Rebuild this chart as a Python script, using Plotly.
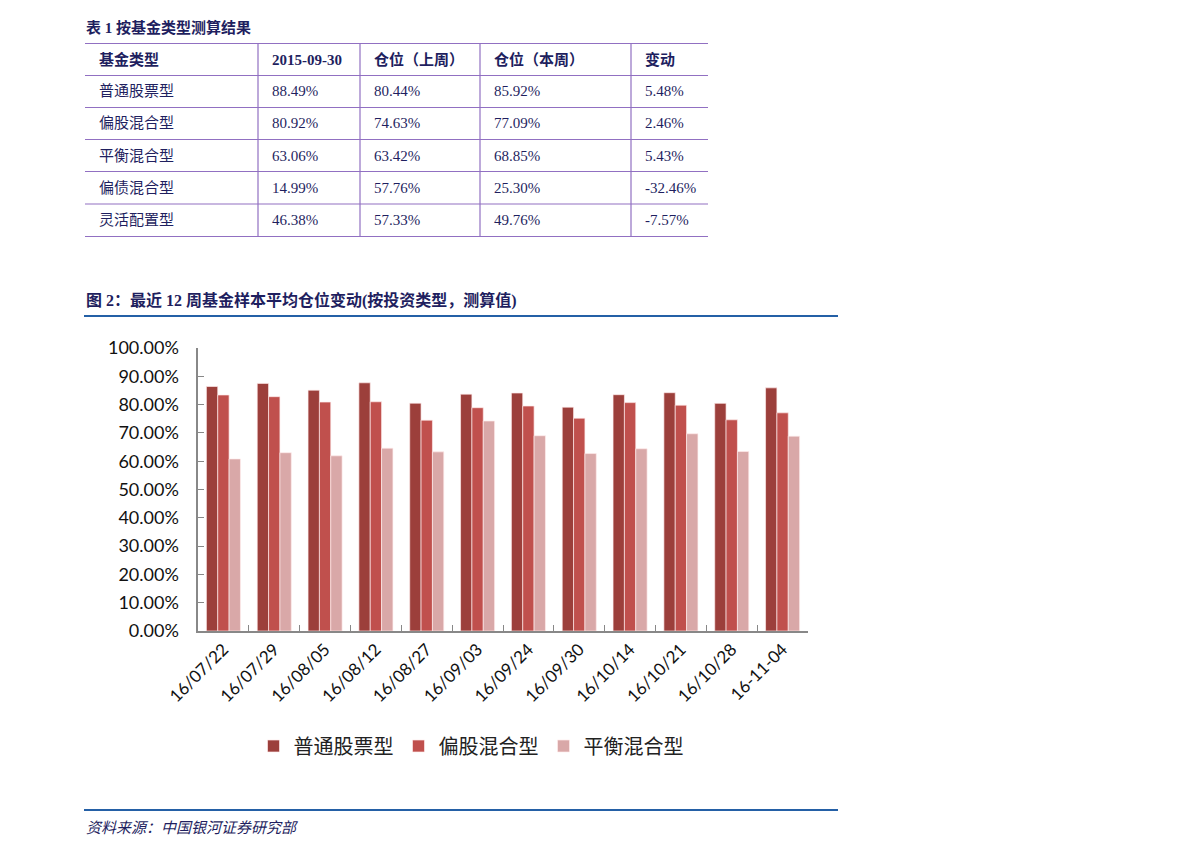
import plotly.graph_objects as go

W, H = 1191, 856

# ---------------- data ----------------
weeks = ["16/07/22", "16/07/29", "16/08/05", "16/08/12", "16/08/27", "16/09/03",
         "16/09/24", "16/09/30", "16/10/14", "16/10/21", "16/10/28", "16-11-04"]
stock_fund = [86.4, 87.5, 85.1, 87.7, 80.5, 83.7, 84.1, 79.1, 83.5, 84.2, 80.44, 85.92]
equity_mixed = [83.4, 82.8, 80.9, 81.0, 74.5, 78.9, 79.5, 75.2, 80.7, 79.8, 74.63, 77.09]
balanced_mixed = [60.8, 63.0, 61.9, 64.6, 63.3, 74.2, 69.0, 62.7, 64.4, 69.7, 63.42, 68.85]
series_names = ["普通股票型", "偏股混合型", "平衡混合型"]
series_colors = ["#9C3F3B", "#C0504D", "#D9A8A8"]

table_header = ["基金类型", "2015-09-30", "仓位（上周）", "仓位（本周）", "变动"]
fund_types = ["普通股票型", "偏股混合型", "平衡混合型", "偏债混合型", "灵活配置型"]
pos_20150930 = [88.49, 80.92, 63.06, 14.99, 46.38]
pos_last_week = [80.44, 74.63, 63.42, 57.76, 57.33]
pos_this_week = [85.92, 77.09, 68.85, 25.30, 49.76]
pos_change = [5.48, 2.46, 5.43, -32.46, -7.57]

table_title = "表 1 按基金类型测算结果"
chart_title = "图 2：最近 12 周基金样本平均仓位变动(按投资类型，测算值)"
source_text = "资料来源：中国银河证券研究部"

# ---------------- helpers ----------------
def px(x):
    return x / W

def py(y):
    return 1 - y / H

NAVY = "#1F1F5F"
PURPLE = "#9170C2"
BLUE = "#2460A6"
FONT_MIX = "Liberation Serif, Noto Sans CJK SC"
FONT_CJK = "Noto Sans CJK SC"
FONT_AX = "Lato, Open Sans, sans-serif"

fig = go.Figure()

for name, vals, col in zip(series_names, [stock_fund, equity_mixed, balanced_mixed], series_colors):
    fig.add_trace(go.Bar(
        x=weeks, y=[v / 100 for v in vals], name=name,
        marker=dict(color=col, line=dict(color="rgba(255,235,235,0.85)", width=0.8)),
    ))

shapes = []
annotations = []

# table grid
row_lines = [43.5, 75.5, 107.5, 139.5, 171.5, 204, 236.5]
col_lines = [258, 360, 480, 631]
for yy in row_lines:
    shapes.append(dict(type="line", xref="paper", yref="paper", x0=px(85), x1=px(708),
                       y0=py(yy), y1=py(yy), line=dict(color=PURPLE, width=1.2)))
for xx in col_lines:
    shapes.append(dict(type="line", xref="paper", yref="paper", x0=px(xx), x1=px(xx),
                       y0=py(row_lines[0]), y1=py(row_lines[-1]), line=dict(color=PURPLE, width=1.2)))

text_x = [97, 270, 372, 492, 643]

def add_text(x, y, text, size, bold=False, color=NAVY, family=FONT_MIX, italic=False):
    t = text
    if bold:
        t = "<b>" + t + "</b>"
    if italic:
        t = "<i>" + t + "</i>"
    annotations.append(dict(xref="paper", yref="paper", x=px(x), y=py(y), text=t,
                            showarrow=False, xanchor="left", yanchor="middle",
                            font=dict(size=size, color=color, family=family)))

add_text(84, 28, table_title, 15, bold=True)
for i, h in enumerate(table_header):
    add_text(text_x[i], 60, h, 15, bold=True)

for r in range(len(fund_types)):
    yc = (row_lines[r + 1] + row_lines[r + 2]) / 2
    cells = [fund_types[r], f"{pos_20150930[r]:.2f}%", f"{pos_last_week[r]:.2f}%",
             f"{pos_this_week[r]:.2f}%", f"{pos_change[r]:.2f}%"]
    for i, c in enumerate(cells):
        add_text(text_x[i], yc, c, 15)

# chart title + rules
add_text(84, 300, chart_title, 16, bold=True)
shapes.append(dict(type="line", xref="paper", yref="paper", x0=px(84), x1=px(838),
                   y0=py(316), y1=py(316), line=dict(color=BLUE, width=2)))
shapes.append(dict(type="line", xref="paper", yref="paper", x0=px(84), x1=px(838),
                   y0=py(810), y1=py(810), line=dict(color=BLUE, width=2)))
add_text(84, 828, source_text, 15, italic=True)

fig.update_layout(
    width=W, height=H,
    margin=dict(l=0, r=0, t=0, b=0, pad=0, autoexpand=False),
    paper_bgcolor="white", plot_bgcolor="white",
    barmode="group", bargap=0.33, bargroupgap=0.0,
    showlegend=True,
    legend=dict(orientation="h", x=px(471), xanchor="center", y=py(746), yanchor="middle",
                font=dict(family=FONT_CJK, size=20, color="#222222"),
                itemclick=False, traceorder="normal", bgcolor="rgba(0,0,0,0)"),
    xaxis=dict(domain=[px(198), px(808)], type="category", automargin=False,
               showline=True, linecolor="#888888", linewidth=1.5,
               ticks="inside", tickson="boundaries", ticklen=6, tickcolor="#888888", tickwidth=1.3,
               tickangle=-45, tickfont=dict(family=FONT_AX, size=17, color="#111111"),
               showgrid=False, zeroline=False, fixedrange=True),
    yaxis=dict(domain=[py(631), py(348)], range=[0, 1], dtick=0.1, tickformat=".2%",
               ticksuffix="\u00a0\u00a0\u00a0", automargin=False,
               showline=True, linecolor="#888888", linewidth=1.5,
               ticks="inside", ticklen=6, tickcolor="#888888", tickwidth=1.3,
               tickfont=dict(family=FONT_AX, size=18, color="#111111"),
               showgrid=False, zeroline=False, fixedrange=True),
    shapes=shapes, annotations=annotations,
)

fig.write_html("out.html", post_script="document.body.style.margin='0';",
               config={"displayModeBar": False, "staticPlot": False})
